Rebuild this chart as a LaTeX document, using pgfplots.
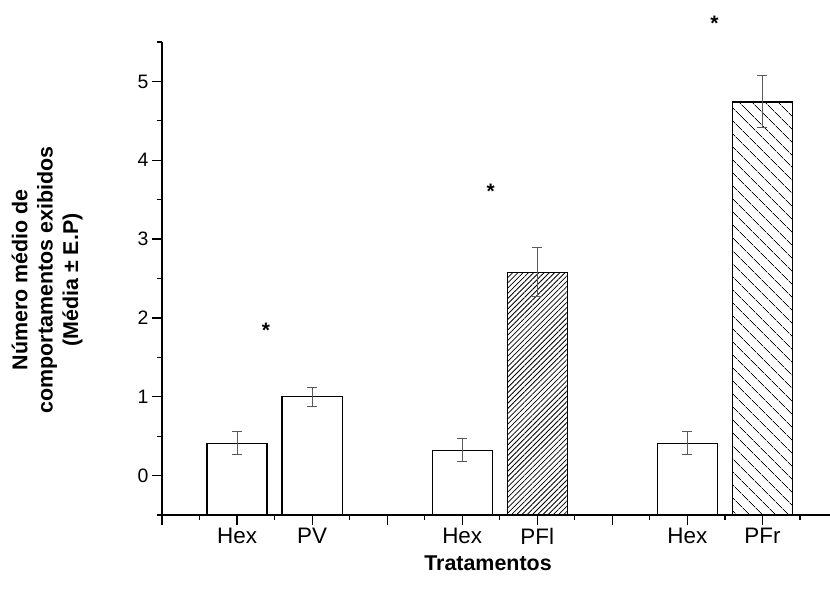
\documentclass[border=0pt]{standalone}
\usepackage{pgfplots}
\pgfplotsset{compat=1.18}
\usepackage{pgfplotstable}
\usepackage{fontspec}
\setmainfont{Liberation Sans}
\usetikzlibrary{patterns.meta}
\pgfplotstableread{
x y e
1 0.41 0.145
2 1.00 0.12
4 0.32 0.145
5 2.58 0.31
7 0.41 0.145
8 4.74 0.33
}\errdata
\begin{document}
\begin{tikzpicture}
\useasboundingbox (-162bp,-82bp) rectangle (668bp,515bp);
\begin{axis}[
  at={(0,0)}, anchor=south west,
  scale only axis, width=668bp, height=473bp,
  xmin=0, xmax=8.9, ymin=-0.5, ymax=5.5,
  axis x line=bottom, axis y line=left,
  axis line style={-, line width=1.4bp, black},
  tick align=outside,
  major tick length=10bp, minor tick length=5bp,
  tick style={black, line width=1.2bp},
  xtick={0,1,2,3,4,5,6,7,8,9}, minor xtick={0.5,1.5,2.5,3.5,4.5,5.5,6.5,7.5,8.5},
  xticklabels={,Hex,PV,,Hex,PFl,,Hex,PFr,},
  ytick={0,1,2,3,4,5}, minor ytick={-0.5,0.5,1.5,2.5,3.5,4.5,5.5},
  /pgf/number format/assume math mode=true,
  xticklabel style={font=\fontsize{22.5}{22.5}\selectfont},
  yticklabel style={font=\fontsize{19.5}{19.5}\selectfont},
  xlabel={Tratamentos},
  xlabel style={at={(axis description cs:0.488,-0.1015)}, anchor=center, font=\bfseries\fontsize{21.5}{26}\selectfont},
  ylabel={Número médio de\\comportamentos exibidos\\(Média ± E.P)},
  ylabel style={at={(axis description cs:-0.172,0.497)}, anchor=center, align=center, font=\bfseries\fontsize{21.5}{25.5}\selectfont},
  clip=false,
]
% bars (drawn down to the x axis at y = -0.5)
\addplot[draw=black, line width=1.2bp, fill=white] coordinates {(0.6,-0.5) (0.6,0.41) (1.4,0.41) (1.4,-0.5)} -- cycle;
\addplot[draw=black, line width=1.2bp, fill=white] coordinates {(1.6,-0.5) (1.6,1.00) (2.4,1.00) (2.4,-0.5)} -- cycle;
\addplot[draw=black, line width=1.2bp, fill=white] coordinates {(3.6,-0.5) (3.6,0.32) (4.4,0.32) (4.4,-0.5)} -- cycle;
\addplot[draw=black, line width=1.2bp, pattern={Lines[angle=45,distance=3.7bp,line width=0.8bp]}] coordinates {(4.6,-0.5) (4.6,2.58) (5.4,2.58) (5.4,-0.5)} -- cycle;
\addplot[draw=black, line width=1.2bp, fill=white] coordinates {(6.6,-0.5) (6.6,0.41) (7.4,0.41) (7.4,-0.5)} -- cycle;
\addplot[draw=black, line width=1.2bp, pattern={Lines[angle=-45,distance=9.5bp,line width=0.8bp]}] coordinates {(7.6,-0.5) (7.6,4.74) (8.4,4.74) (8.4,-0.5)} -- cycle;
% error bars
\addplot[draw=none, no markers,
  error bars/.cd, y dir=both, y explicit,
  error bar style={draw=black!65, line width=1bp},
  error mark options={rotate=90, mark size=5bp, draw=black!65, line width=1bp}]
  table[x=x, y=y, y error=e] {\errdata};
% significance asterisks
\addplot[draw=none, no markers, nodes near coords={*},
  every node near coord/.append style={anchor=center, black, font=\bfseries\fontsize{21}{21}\selectfont}]
  coordinates {(1.385,1.84) (4.38,3.61) (7.36,5.74)};
\end{axis}
\end{tikzpicture}
\end{document}
